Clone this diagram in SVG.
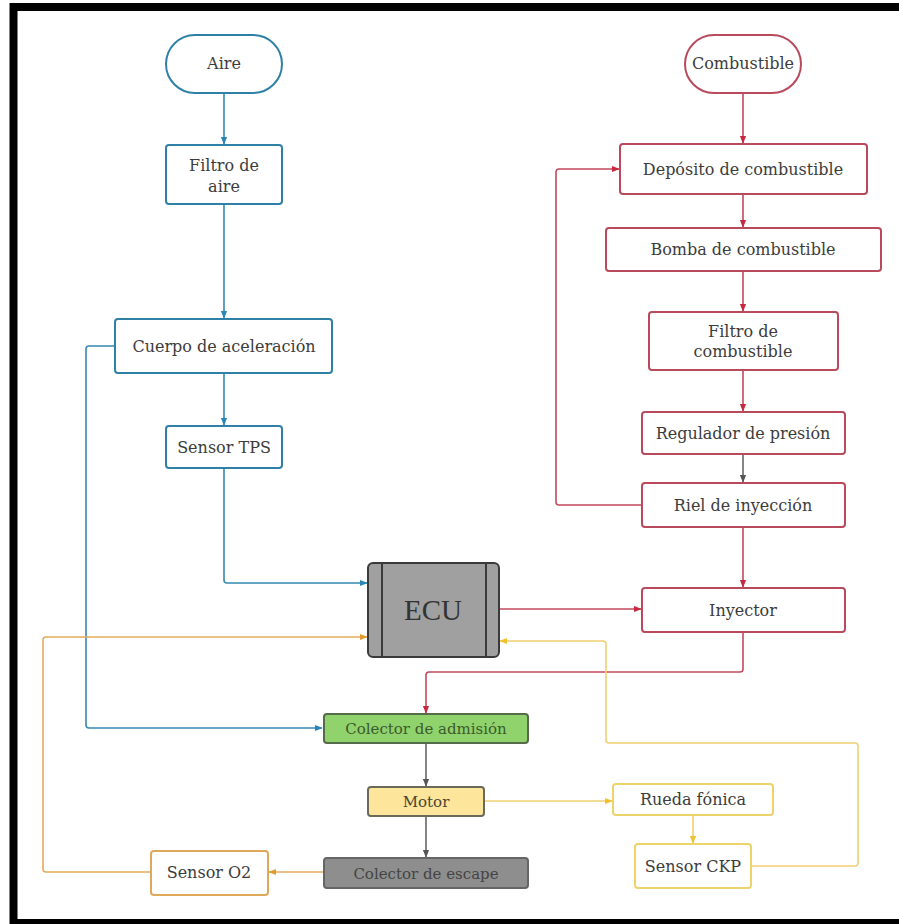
<svg xmlns="http://www.w3.org/2000/svg" width="899" height="924" viewBox="0 0 899 924">
<style>
.t{font-family:"DejaVu Serif","Liberation Serif",serif;font-size:16px;fill:#3c3c3c;text-anchor:middle}
.bl{fill:#fff;stroke:#2f80a6;stroke-width:2}
.rd{fill:#fff;stroke:#b84a5c;stroke-width:2}
.yl{fill:#fff;stroke:#ecd36a;stroke-width:2}
.or{fill:#fff;stroke:#e0a85a;stroke-width:2}
.c{fill:none;stroke-width:1.6;stroke-linejoin:round}
.cb{stroke:#3589b3}
.cr{stroke:#c24a5c}
.cy{stroke:#efd070}
.co{stroke:#e4aa5c}
.cg{stroke:#666}
</style>
<defs>
<marker id="ab" viewBox="0 0 10 10" refX="9" refY="5" markerWidth="8" markerHeight="8" orient="auto" markerUnits="userSpaceOnUse"><path d="M0,1L10,5L0,9z" fill="#2b86b8"/></marker>
<marker id="ar" viewBox="0 0 10 10" refX="9" refY="5" markerWidth="8" markerHeight="8" orient="auto" markerUnits="userSpaceOnUse"><path d="M0,1L10,5L0,9z" fill="#c8283f"/></marker>
<marker id="ay" viewBox="0 0 10 10" refX="9" refY="5" markerWidth="8" markerHeight="8" orient="auto" markerUnits="userSpaceOnUse"><path d="M0,1L10,5L0,9z" fill="#f0c030"/></marker>
<marker id="ao" viewBox="0 0 10 10" refX="9" refY="5" markerWidth="8" markerHeight="8" orient="auto" markerUnits="userSpaceOnUse"><path d="M0,1L10,5L0,9z" fill="#e39a30"/></marker>
<marker id="ag" viewBox="0 0 10 10" refX="9" refY="5" markerWidth="8" markerHeight="8" orient="auto" markerUnits="userSpaceOnUse"><path d="M0,1L10,5L0,9z" fill="#555"/></marker>
</defs>
<rect width="899" height="924" fill="#fff"/>
<path d="M13.5,924V7H899" fill="none" stroke="#000" stroke-width="8"/>
<rect x="10" y="919" width="889" height="5" fill="#000"/>

<g id="connectors">
<path class="c cb" d="M224,93V144" marker-end="url(#ab)"/>
<path class="c cb" d="M224,204V318" marker-end="url(#ab)"/>
<path class="c cb" d="M224,373V425" marker-end="url(#ab)"/>
<path class="c cb" d="M224,468V580Q224,583 227,583H367" marker-end="url(#ab)"/>
<path class="c cb" d="M115,346H89Q86,346 86,349V725Q86,728 89,728H322" marker-end="url(#ab)"/>
<path class="c cr" d="M743,93V143" marker-end="url(#ar)"/>
<path class="c cr" d="M743,194V227" marker-end="url(#ar)"/>
<path class="c cr" d="M743,271V311" marker-end="url(#ar)"/>
<path class="c cr" d="M743,370V411" marker-end="url(#ar)"/>
<path class="c cg" d="M743,454V482" marker-end="url(#ag)"/>
<path class="c cr" d="M743,527V587" marker-end="url(#ar)"/>
<path class="c cr" d="M642,505H559Q556,505 556,502V172Q556,169 559,169H619" marker-end="url(#ar)"/>
<path class="c cr" d="M499,609H641" marker-end="url(#ar)"/>
<path class="c cr" d="M743,632V669Q743,672 740,672H429Q426,672 426,675V713" marker-end="url(#ar)"/>
<path class="c cg" d="M426,743V786" marker-end="url(#ag)"/>
<path class="c cg" d="M426,816V857" marker-end="url(#ag)"/>
<path class="c co" d="M324,872H269" marker-end="url(#ao)"/>
<path class="c co" d="M151,872H46Q43,872 43,869V640Q43,637 46,637H367" marker-end="url(#ao)"/>
<path class="c cy" d="M484,801H612" marker-end="url(#ay)"/>
<path class="c cy" d="M693,815V843" marker-end="url(#ay)"/>
<path class="c cy" d="M751,866H855Q858,866 858,863V746Q858,743 855,743H609Q606,743 606,740V644Q606,641 603,641H500" marker-end="url(#ay)"/>
</g>

<g id="aire"><rect class="bl" x="166" y="35" width="116" height="58" rx="29"/><text class="t" x="224" y="69">Aire</text></g>
<g id="filtro-aire"><rect class="bl" x="166" y="145" width="116" height="59" rx="3"/><text class="t" x="224" y="171">Filtro de</text><text class="t" x="224" y="192">aire</text></g>
<g id="cuerpo"><rect class="bl" x="115" y="319" width="217" height="54" rx="3"/><text class="t" x="224" y="352">Cuerpo de aceleración</text></g>
<g id="tps"><rect class="bl" x="166" y="426" width="116" height="42" rx="3"/><text class="t" x="224" y="453">Sensor TPS</text></g>
<g id="ecu"><rect x="368" y="563" width="131" height="94" rx="5" fill="#a0a0a0" stroke="#3a3a3a" stroke-width="2"/><path d="M382,563V657M486,563V657" stroke="#3a3a3a" stroke-width="2"/><text x="433" y="620" style="font-family:'Liberation Serif',serif;font-size:29px;fill:#333;text-anchor:middle">ECU</text></g>

<g id="combustible"><rect class="rd" x="685" y="35" width="116" height="58" rx="29"/><text class="t" x="743" y="69">Combustible</text></g>
<g id="deposito"><rect class="rd" x="620" y="144" width="247" height="50" rx="3"/><text class="t" x="743" y="175">Depósito de combustible</text></g>
<g id="bomba"><rect class="rd" x="606" y="228" width="275" height="43" rx="3"/><text class="t" x="743" y="255">Bomba de combustible</text></g>
<g id="filtro-comb"><rect class="rd" x="649" y="312" width="189" height="58" rx="3"/><text class="t" x="743" y="337">Filtro de</text><text class="t" x="743" y="357">combustible</text></g>
<g id="regulador"><rect class="rd" x="642" y="412" width="203" height="42" rx="3"/><text class="t" x="743" y="439">Regulador de presión</text></g>
<g id="riel"><rect class="rd" x="642" y="483" width="203" height="44" rx="3"/><text class="t" x="743" y="511">Riel de inyección</text></g>
<g id="inyector"><rect class="rd" x="642" y="588" width="203" height="44" rx="3"/><text class="t" x="743" y="616">Inyector</text></g>

<g id="admision"><rect x="324" y="714" width="204" height="29" rx="3" fill="#90d26c" stroke="#556b4a" stroke-width="2"/><text class="t" x="426" y="734" style="font-size:15px;fill:#3b5a2c">Colector de admisión</text></g>
<g id="motor"><rect x="368" y="787" width="116" height="29" rx="3" fill="#fde59c" stroke="#6a6a5a" stroke-width="2"/><text class="t" x="426" y="807" style="font-size:15px;fill:#4a4430">Motor</text></g>
<g id="escape"><rect x="324" y="858" width="204" height="30" rx="3" fill="#8e8e8e" stroke="#666" stroke-width="2"/><text class="t" x="426" y="879" style="font-size:15px;fill:#444">Colector de escape</text></g>
<g id="o2"><rect class="or" x="151" y="851" width="117" height="44" rx="3"/><text class="t" x="209" y="878">Sensor O2</text></g>
<g id="rueda"><rect class="yl" x="613" y="784" width="160" height="31" rx="3"/><text class="t" x="693" y="805">Rueda fónica</text></g>
<g id="ckp"><rect class="yl" x="635" y="844" width="116" height="44" rx="3"/><text class="t" x="693" y="872">Sensor CKP</text></g>
</svg>
